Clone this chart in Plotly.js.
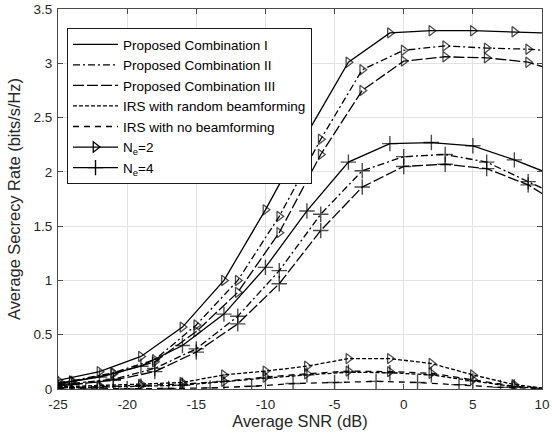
<!DOCTYPE html>
<html>
<head>
<meta charset="utf-8">
<script src="https://cdn.plot.ly/plotly-3.0.1.min.js"></script>
<style>
  html, body { margin: 0; padding: 0; background: #fff; }
  #chart { width: 552px; height: 437px; }
</style>
</head>
<body>
<div id="chart"></div>
<script>
// SNR grids (dB); each curve family places its markers on its own 3 dB grid
const snrA = [-25, -22, -19, -16, -13, -10, -7, -4, -1, 2, 5, 8, 10];
const snrB = [-25, -24, -21, -18, -15, -12, -9, -6, -3, 0, 3, 6, 9, 10];
const snrC = [-25, -23, -20, -17, -14, -11, -8, -5, -2, 1, 4, 7, 10];

// Average secrecy rate (bits/s/Hz), Ne = 2
const comb1Ne2 = [0.08, 0.16, 0.30, 0.57, 1.00, 1.65, 2.35, 3.01, 3.28, 3.30, 3.30, 3.29, 3.28];
const comb2Ne2 = [0.06, 0.075, 0.15, 0.27, 0.59, 1.00, 1.59, 2.30, 2.94, 3.12, 3.16, 3.14, 3.13, 3.12];
const comb3Ne2 = [0.055, 0.07, 0.14, 0.25, 0.53, 0.89, 1.44, 2.16, 2.75, 3.02, 3.06, 3.05, 3.01, 2.97];
const randNe2  = [0.02, 0.03, 0.045, 0.06, 0.13, 0.165, 0.21, 0.28, 0.28, 0.235, 0.13, 0.04, 0.01];
const noBfNe2  = [0.01, 0.02, 0.03, 0.045, 0.07, 0.11, 0.14, 0.165, 0.16, 0.145, 0.085, 0.025, 0.01];

// Average secrecy rate (bits/s/Hz), Ne = 4
const comb1Ne4 = [0.05, 0.11, 0.21, 0.40, 0.69, 1.12, 1.64, 2.09, 2.26, 2.27, 2.24, 2.11, 2.01];
const comb2Ne4 = [0.04, 0.05, 0.09, 0.19, 0.37, 0.67, 1.09, 1.61, 2.01, 2.14, 2.16, 2.09, 1.91, 1.85];
const comb3Ne4 = [0.03, 0.04, 0.08, 0.16, 0.34, 0.60, 0.97, 1.46, 1.86, 2.05, 2.07, 2.03, 1.88, 1.80];
const randNe4  = [0.01, 0.015, 0.025, 0.035, 0.07, 0.10, 0.13, 0.155, 0.15, 0.13, 0.075, 0.02, 0.005];
const noBfNe4  = [0.0, 0.0, 0.002, 0.005, 0.01, 0.025, 0.05, 0.06, 0.07, 0.06, 0.04, 0.015, 0.005];

// Legend text and axis ticks
const schemeNames = [
  'Proposed Combination I',
  'Proposed Combination II',
  'Proposed Combination III',
  'IRS with random beamforming',
  'IRS with no beamforming'
];
const eveNames = ['N<sub>e</sub>=2', 'N<sub>e</sub>=4'];
const xTicks = [-25, -20, -15, -10, -5, 0, 5, 10];
const xTickLabels = ['-25', '-20', '-15', '-10', '-5', '0', '5', '10'];
const yTicks = [0, 0.5, 1, 1.5, 2, 2.5, 3, 3.5];
const yTickLabels = ['0', '0.5', '1', '1.5', '2', '2.5', '3', '3.5'];

// Line styles per scheme
const DASH = {
  comb1: 'solid',
  comb2: '7px,3px,2px,3px',
  comb3: '11px,3px',
  rand: '4px,2px',
  nobf: '6px,5px'
};
const INK = '#000000';
const LW = 1.3;

const MARK = {
  ne2: { symbol: 'triangle-right-open', size: 9, line: { color: INK, width: 1.3 } },
  ne4: { symbol: 'cross-thin-open', size: 11, line: { color: INK, width: 1.4 } }
};

// marker only on the curve's own 3 dB grid, none on the end points
function markerSizes(xs, start, size) {
  return xs.map(v => (v >= start && v <= 9 && ((v - start) % 3 === 0)) ? size : 0);
}

function curve(xs, ys, dash, kind, start) {
  const m = MARK[kind];
  return {
    x: xs, y: ys, type: 'scatter', mode: 'lines+markers',
    showlegend: false, hoverinfo: 'skip',
    line: { color: INK, width: LW, dash: dash },
    marker: {
      symbol: m.symbol, color: INK,
      size: markerSizes(xs, start, m.size),
      line: m.line
    }
  };
}

const traces = [
  curve(snrA, comb1Ne2, DASH.comb1, 'ne2', -25),
  curve(snrB, comb2Ne2, DASH.comb2, 'ne2', -24),
  curve(snrB, comb3Ne2, DASH.comb3, 'ne2', -24),
  curve(snrA, randNe2, DASH.rand, 'ne2', -25),
  curve(snrA, noBfNe2, DASH.nobf, 'ne2', -25),
  curve(snrA, comb1Ne4, DASH.comb1, 'ne4', -25),
  curve(snrB, comb2Ne4, DASH.comb2, 'ne4', -24),
  curve(snrB, comb3Ne4, DASH.comb3, 'ne4', -24),
  curve(snrA, randNe4, DASH.rand, 'ne4', -25),
  curve(snrC, noBfNe4, DASH.nobf, 'ne4', -23)
];

// Legend entries: line styles for the schemes, then marker types for Ne
const legendDash = [DASH.comb1, DASH.comb2, DASH.comb3, DASH.rand, DASH.nobf];
schemeNames.forEach((name, i) => {
  traces.push({
    x: [null], y: [null], type: 'scatter', mode: 'lines', name: name,
    line: { color: INK, width: LW, dash: legendDash[i] }
  });
});
['ne2', 'ne4'].forEach((k, i) => {
  const m = MARK[k];
  traces.push({
    x: [null], y: [null], type: 'scatter', mode: 'lines+markers', name: eveNames[i],
    line: { color: INK, width: LW },
    marker: { symbol: m.symbol, size: m.size, color: INK, line: m.line }
  });
});

const FONT = 'Liberation Sans, Arial, Helvetica, sans-serif';
const AXC = '#4a4a4a';

const axisBase = {
  showline: true, linecolor: AXC, linewidth: 1, mirror: 'ticks',
  ticks: 'inside', ticklen: 5, tickwidth: 1, tickcolor: AXC,
  showgrid: true, gridcolor: '#e3e3e3', gridwidth: 1,
  zeroline: false, tickfont: { family: FONT, size: 13.5, color: '#262626' }
};

const layout = {
  width: 552, height: 437,
  margin: { l: 58, r: 10, t: 9, b: 48 },
  paper_bgcolor: '#ffffff', plot_bgcolor: '#ffffff',
  font: { family: FONT, color: '#262626' },
  xaxis: Object.assign({}, axisBase, {
    range: [-25, 10], tickmode: 'array', tickvals: xTicks, ticktext: xTickLabels,
    ticklabelstandoff: 3,
    title: { text: 'Average SNR (dB)', font: { family: FONT, size: 16.4, color: '#262626' }, standoff: 2 }
  }),
  yaxis: Object.assign({}, axisBase, {
    range: [0, 3.5], tickmode: 'array', tickvals: yTicks, ticktext: yTickLabels,
    ticklabelstandoff: 2,
    title: { text: 'Average Secrecy Rate (bits/s/Hz)', font: { family: FONT, size: 16.4, color: '#262626' }, standoff: 8 }
  }),
  legend: {
    x: 0.0186, y: 0.95, xanchor: 'left', yanchor: 'top',
    bgcolor: '#ffffff', bordercolor: '#1a1a1a', borderwidth: 1,
    font: { family: FONT, size: 13.5, color: '#000000' },
    itemwidth: 45, tracegroupgap: 0
  },
  showlegend: true
};

Plotly.newPlot('chart', traces, layout, { staticPlot: true, displayModeBar: false });
</script>
</body>
</html>
